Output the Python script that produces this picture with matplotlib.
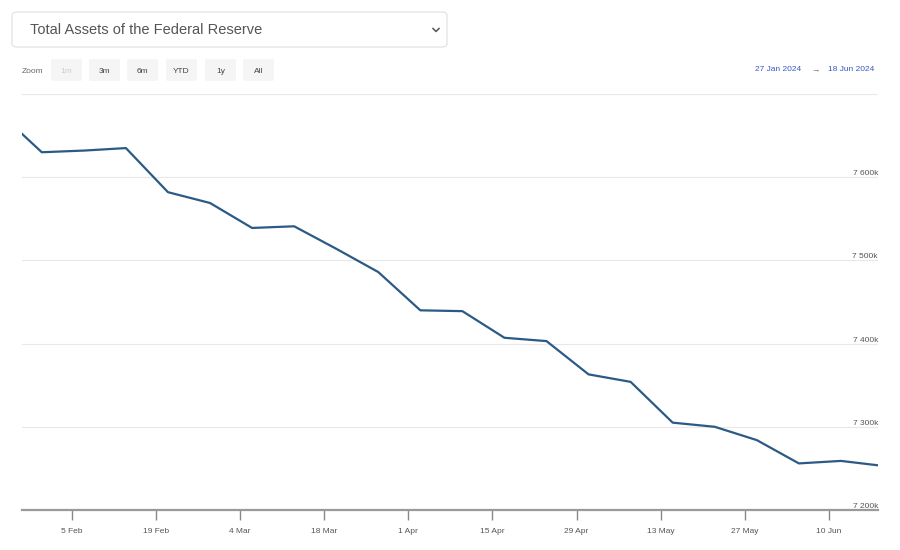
import numpy as np
import matplotlib
matplotlib.use("Agg")
import matplotlib.pyplot as plt
import matplotlib.dates as mdates
from matplotlib.patches import FancyBboxPatch
from matplotlib.lines import Line2D

plt.rcParams["font.family"] = ["Liberation Sans", "DejaVu Sans"]

# weekly values (millions USD, shown as "k")
dates = np.array(["2024-01-24", "2024-01-31", "2024-02-07", "2024-02-14", "2024-02-21",
                  "2024-02-28", "2024-03-06", "2024-03-13", "2024-03-20", "2024-03-27",
                  "2024-04-03", "2024-04-10", "2024-04-17", "2024-04-24", "2024-05-01",
                  "2024-05-08", "2024-05-15", "2024-05-22", "2024-05-29", "2024-06-05",
                  "2024-06-12", "2024-06-19"], dtype="datetime64[D]")
assets = [7677, 7630, 7632, 7635, 7582,
          7569, 7539, 7541, 7514, 7486,
          7440, 7439, 7407, 7403, 7363,
          7354, 7305, 7300, 7284, 7256,
          7259, 7253]

tick_dates = np.array(["2024-02-05", "2024-02-19", "2024-03-04", "2024-03-18", "2024-04-01",
                       "2024-04-15", "2024-04-29", "2024-05-13", "2024-05-27", "2024-06-10"],
                      dtype="datetime64[D]")
tick_labels = ["5 Feb", "19 Feb", "4 Mar", "18 Mar", "1 Apr",
               "15 Apr", "29 Apr", "13 May", "27 May", "10 Jun"]
y_ticks = [7200, 7300, 7400, 7500, 7600, 7700]
y_labels = ["7 200k", "7 300k", "7 400k", "7 500k", "7 600k", ""]
zoom_buttons = ["1m", "3m", "6m", "YTD", "1y", "All"]

W, H = 900, 550
fig = plt.figure(figsize=(W / 100, H / 100), dpi=100)
fig.patch.set_facecolor("white")


def fx(px):
    return px / W


def fy(py):
    return 1 - py / H


ax = fig.add_axes([fx(22), fy(510), fx(878) - fx(22), fy(94) - fy(510)])
ax.plot(dates, assets, color="#2b5a86", lw=1.6, solid_joinstyle="round", clip_on=True)
ax.set_xlim(np.datetime64("2024-01-27T17"), np.datetime64("2024-06-18T04"))
ax.set_ylim(7200, 7700)

ax.set_yticks(y_ticks)
ax.set_yticklabels(y_labels)
ax.yaxis.tick_right()
ax.tick_params(axis="y", length=0, pad=0, labelsize=6, labelcolor="#555555")
for lab in ax.get_yticklabels():
    lab.set_ha("right")
    lab.set_va("bottom")
ax.grid(axis="y", color="#e8e8e8", lw=0.8)
ax.set_axisbelow(True)

ax.set_xticks(mdates.date2num(tick_dates))
ax.set_xticklabels(tick_labels)
ax.tick_params(axis="x", length=7, width=1, color="#888888", pad=6,
               labelsize=6, labelcolor="#555555")

for s in ["top", "left", "right"]:
    ax.spines[s].set_visible(False)
ax.spines["bottom"].set_color("#9a9a9a")
ax.spines["bottom"].set_linewidth(1.6)

# dropdown box with the title
box = FancyBboxPatch((fx(12), fy(47)), fx(447) - fx(12), fy(12) - fy(47),
                     boxstyle="round,pad=0,rounding_size=0.006",
                     transform=fig.transFigure, facecolor="white",
                     edgecolor="#e0e0e0", lw=0.8)
fig.patches.append(box)
fig.text(fx(30), fy(30), "Total Assets of the Federal Reserve", fontsize=10.5,
         color="#555555", va="center", ha="left")
fig.lines.append(Line2D([fx(433), fx(436), fx(439)], [fy(28.5), fy(31.5), fy(28.5)],
                        transform=fig.transFigure, color="#555555", lw=1.1))

# zoom buttons
fig.text(fx(33), fy(71), "Zoom", fontsize=6, color="#666666", va="center", ha="center")
btn_x = [51, 89, 127, 166, 205, 243]
for bx, lab in zip(btn_x, zoom_buttons):
    fig.patches.append(FancyBboxPatch((fx(bx), fy(81)), fx(31), fy(59) - fy(81),
                                      boxstyle="round,pad=0,rounding_size=0.003",
                                      transform=fig.transFigure,
                                      facecolor="#f5f5f5", edgecolor="none"))
    fig.text(fx(bx + 15.5), fy(71), lab, fontsize=6,
             color="#cccccc" if lab == "1m" else "#444444", va="center", ha="center")

# date range
fig.text(fx(778), fy(70), "27 Jan 2024", fontsize=6, color="#3b57c4", va="center", ha="center")
fig.text(fx(815), fy(71), "\u2192", fontsize=6, color="#666666", va="center", ha="center")
fig.text(fx(851), fy(70), "18 Jun 2024", fontsize=6, color="#3b57c4", va="center", ha="center")

fig.savefig("out.png", dpi=100)
